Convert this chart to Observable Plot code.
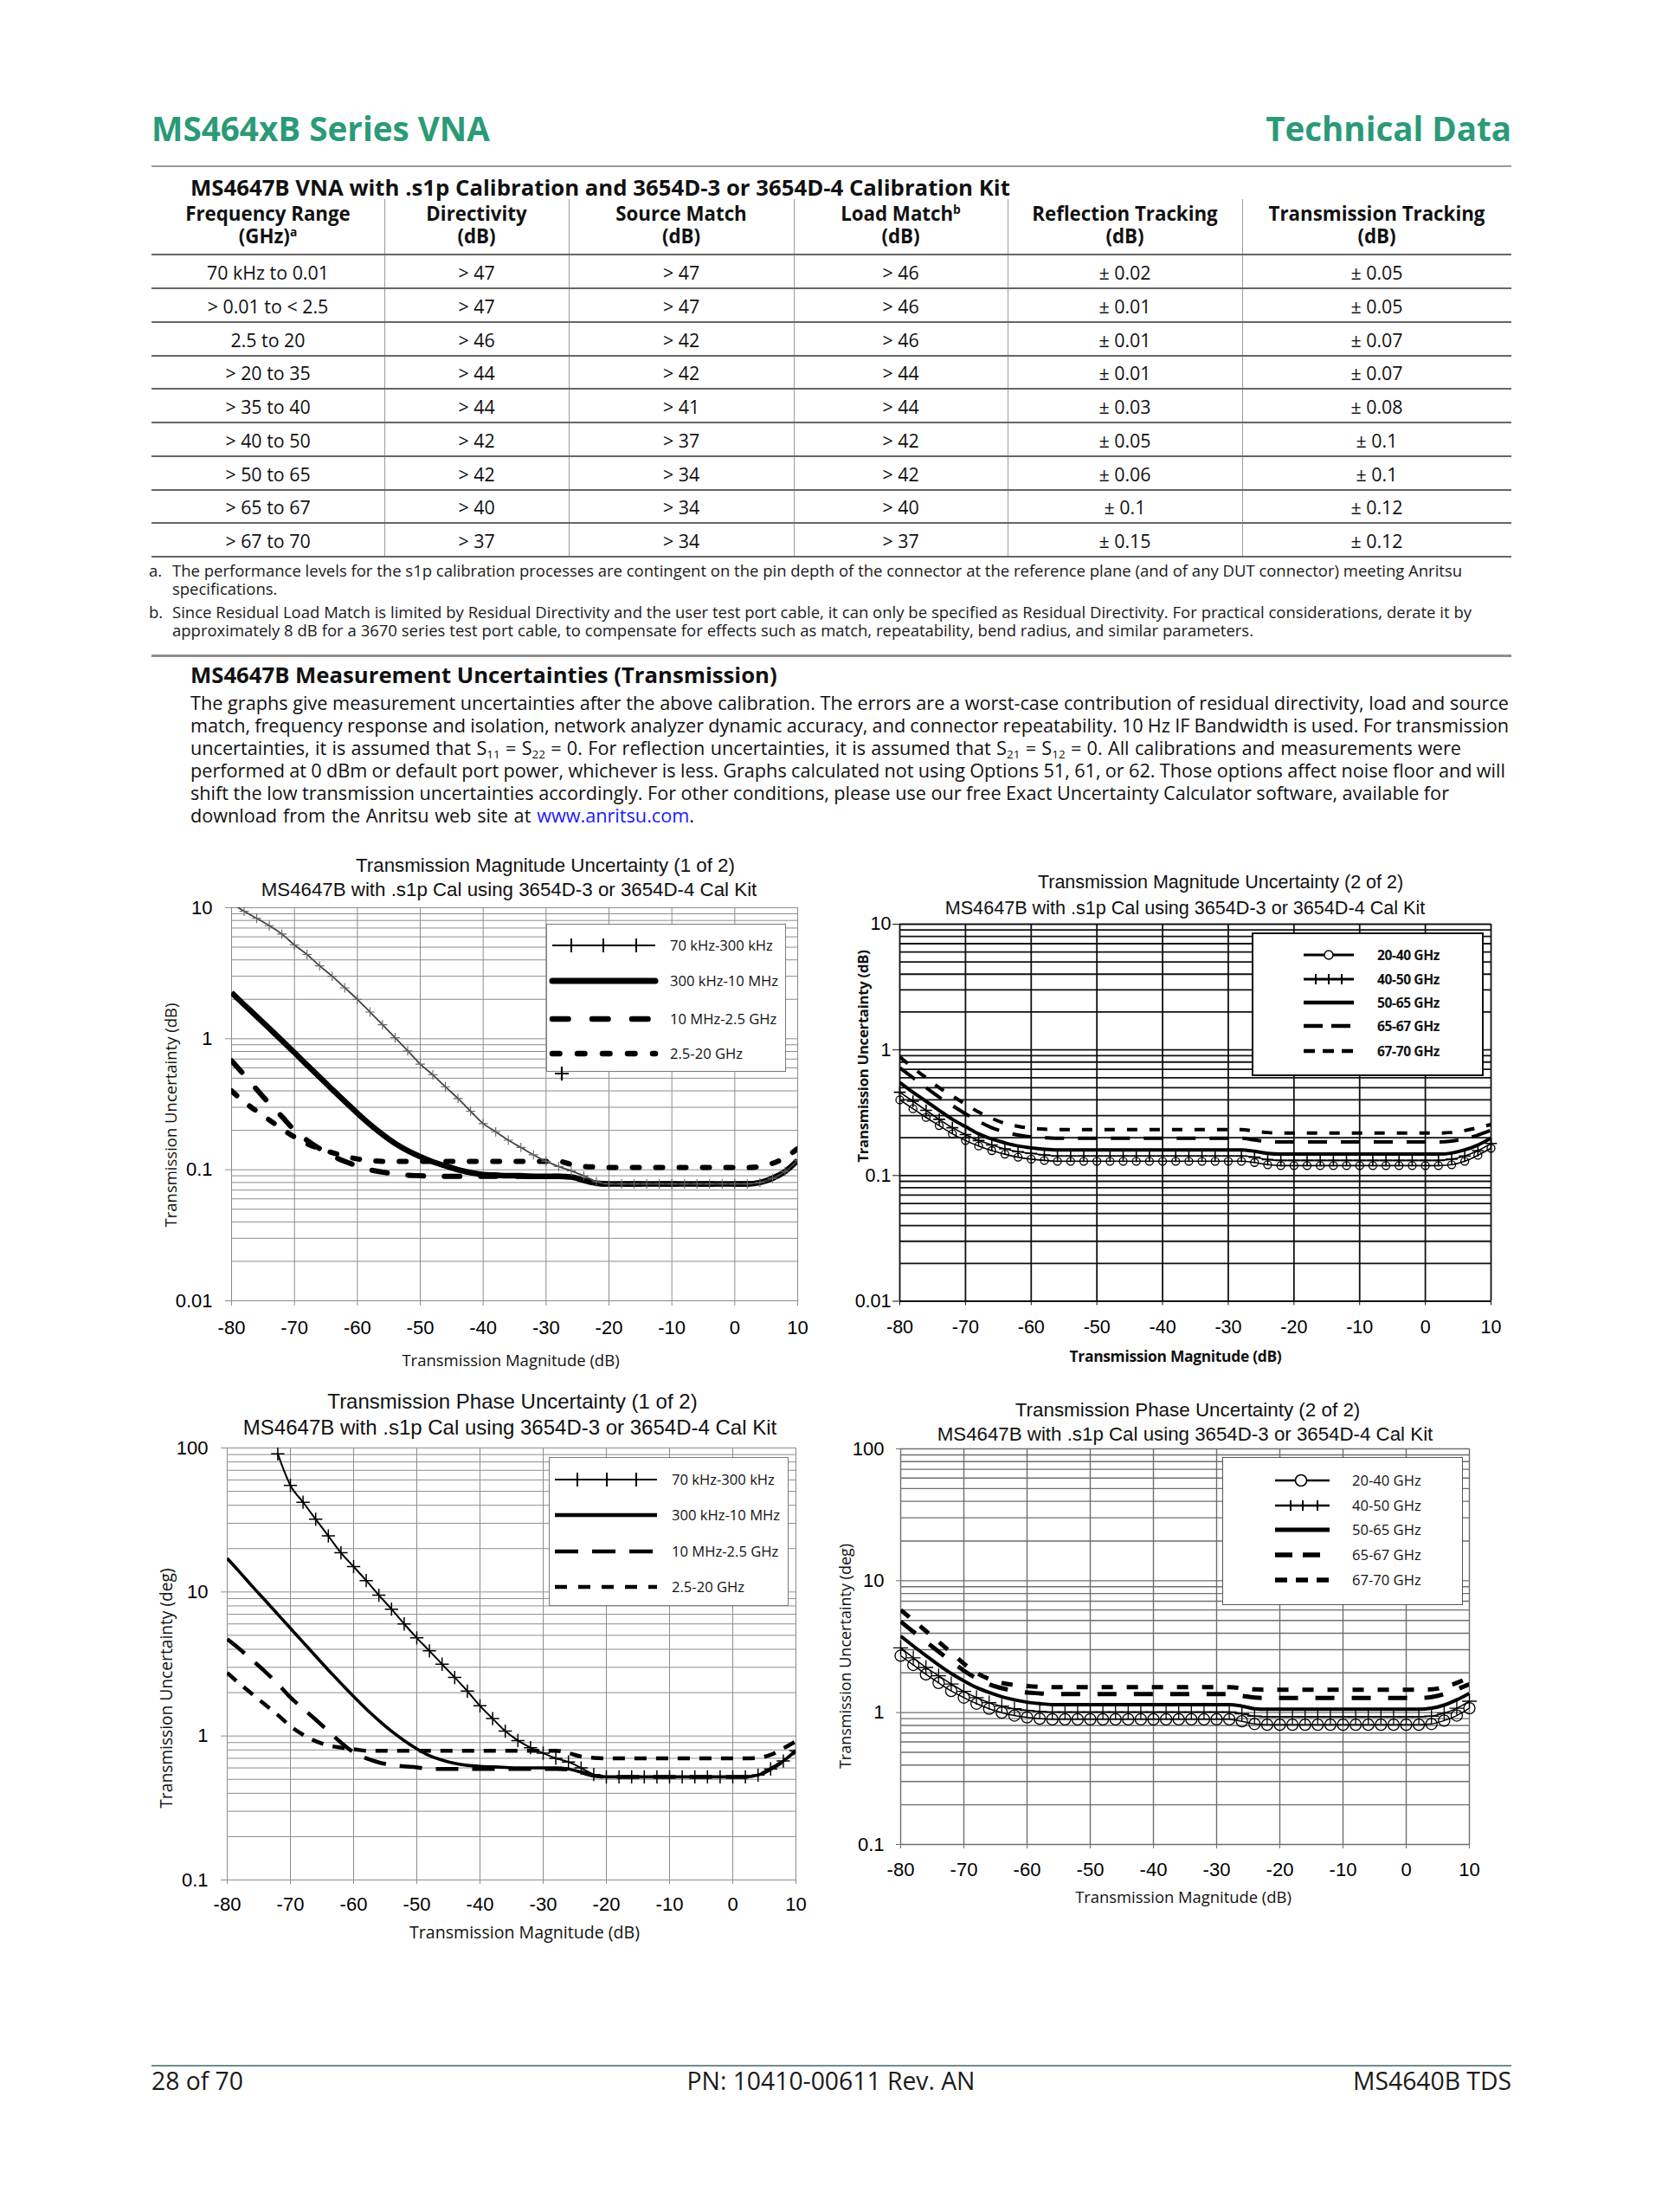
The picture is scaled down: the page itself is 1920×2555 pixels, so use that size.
<!DOCTYPE html>
<html><head><meta charset="utf-8">
<script src="https://cdn.jsdelivr.net/npm/d3@7"></script>
<script src="https://cdn.jsdelivr.net/npm/@observablehq/plot@0.6"></script>
<style>
body{margin:0;background:#fff}
#page{position:relative;width:1920px;height:2555px;overflow:hidden;background:#fff;color:#1a1a1a;font-family:"Open Sans",sans-serif}
sup{font-size:0.62em;line-height:0;vertical-align:0.6em}
sub{font-size:0.62em;line-height:0;vertical-align:-0.3em}
</style></head>
<body><div id="page"></div>
<script>
// ---------------- DATA ----------------
const xTicks = [-80,-70,-60,-50,-40,-30,-20,-10,0,10];
const xLabels = ["-80","-70","-60","-50","-40","-30","-20","-10","0","10"];
const magTicks = [0.01,0.1,1,10];
const magLabels = ["0.01","0.1","1","10"];
const phTicks = [0.1,1,10,100];
const phLabels = ["0.1","1","10","100"];

const xDb = [-80,-78,-76,-74,-72,-70,-68,-66,-64,-62,-60,-58,-56,-54,-52,-50,-48,-46,-44,-42,-40,-38,-36,-34,-32,-30,-28,-26,-24,-22,-20,-18,-16,-14,-12,-10,-8,-6,-4,-2,0,2,4,6,8,10];

// Transmission Magnitude Uncertainty (1 of 2), dB
const mag1Names = ["70 kHz-300 kHz","300 kHz-10 MHz","10 MHz-2.5 GHz","2.5-20 GHz"];
const mag1A = [10.8,9.4,8.3,7.3,6.3,5.2,4.4,3.6,3.0,2.45,2.0,1.6,1.28,1.02,0.81,0.64,0.53,0.43,0.35,0.28,0.225,0.195,0.168,0.148,0.13,0.116,0.106,0.098,0.09,0.081,0.078,0.078,0.078,0.078,0.078,0.078,0.078,0.078,0.078,0.078,0.078,0.078,0.08,0.086,0.097,0.118];
const mag1B = [2.25,1.82,1.48,1.2,0.97,0.785,0.63,0.51,0.41,0.333,0.27,0.222,0.186,0.159,0.14,0.126,0.115,0.107,0.1,0.095,0.092,0.091,0.09,0.09,0.089,0.089,0.089,0.088,0.083,0.079,0.078,0.078,0.078,0.078,0.078,0.078,0.078,0.078,0.078,0.078,0.078,0.078,0.08,0.086,0.097,0.118];
const mag1C = [0.68,0.53,0.41,0.32,0.255,0.2,0.168,0.145,0.128,0.116,0.107,0.1,0.096,0.093,0.091,0.09,0.089,0.089,0.089,0.089,0.089,0.089,0.089,0.089,0.089,0.089,0.089,0.088,0.083,0.079,0.078,0.078,0.078,0.078,0.078,0.078,0.078,0.078,0.078,0.078,0.078,0.078,0.08,0.086,0.097,0.118];
const mag1D = [0.40,0.33,0.28,0.24,0.205,0.178,0.158,0.145,0.135,0.127,0.121,0.118,0.116,0.116,0.116,0.116,0.116,0.116,0.116,0.116,0.116,0.116,0.116,0.116,0.116,0.116,0.116,0.11,0.106,0.105,0.104,0.104,0.104,0.104,0.104,0.104,0.104,0.104,0.104,0.104,0.104,0.104,0.106,0.112,0.124,0.145];

// Transmission Magnitude Uncertainty (2 of 2), dB
const mag2Names = ["20-40 GHz","40-50 GHz","50-65 GHz","65-67 GHz","67-70 GHz"];
const mag2E = [0.40,0.34,0.29,0.25,0.215,0.19,0.172,0.158,0.148,0.14,0.135,0.132,0.13,0.13,0.13,0.13,0.13,0.13,0.13,0.13,0.13,0.13,0.13,0.13,0.13,0.13,0.13,0.127,0.122,0.12,0.12,0.12,0.12,0.12,0.12,0.12,0.12,0.12,0.12,0.12,0.12,0.12,0.122,0.13,0.145,0.165];
const mag2F = [0.46,0.39,0.33,0.28,0.24,0.212,0.19,0.175,0.163,0.155,0.15,0.146,0.143,0.143,0.143,0.143,0.143,0.143,0.143,0.143,0.143,0.143,0.143,0.143,0.143,0.143,0.143,0.14,0.134,0.132,0.132,0.132,0.132,0.132,0.132,0.132,0.132,0.132,0.132,0.132,0.132,0.132,0.135,0.143,0.158,0.18];
const mag2G = [0.55,0.46,0.39,0.33,0.28,0.245,0.215,0.195,0.182,0.172,0.166,0.162,0.16,0.16,0.16,0.16,0.16,0.16,0.16,0.16,0.16,0.16,0.16,0.16,0.16,0.16,0.16,0.156,0.15,0.148,0.148,0.148,0.148,0.148,0.148,0.148,0.148,0.148,0.148,0.148,0.148,0.148,0.151,0.16,0.175,0.198];
const mag2H = [0.72,0.6,0.5,0.42,0.36,0.31,0.27,0.24,0.222,0.21,0.203,0.2,0.198,0.198,0.198,0.198,0.198,0.198,0.198,0.198,0.198,0.198,0.198,0.198,0.198,0.198,0.198,0.192,0.186,0.185,0.185,0.185,0.185,0.185,0.185,0.185,0.185,0.185,0.185,0.185,0.185,0.185,0.188,0.196,0.21,0.23];
const mag2I = [0.88,0.72,0.6,0.5,0.43,0.37,0.32,0.285,0.26,0.246,0.238,0.234,0.232,0.232,0.232,0.232,0.232,0.232,0.232,0.232,0.232,0.232,0.232,0.232,0.232,0.232,0.232,0.226,0.22,0.218,0.218,0.218,0.218,0.218,0.218,0.218,0.218,0.218,0.218,0.218,0.218,0.218,0.22,0.228,0.24,0.255];

// Transmission Phase Uncertainty (1 of 2), deg
const ph1A = [null,null,null,null,91,55,42,32,24.5,18.7,15,12,9.5,7.6,6,4.8,3.9,3.15,2.55,2.05,1.62,1.32,1.08,0.93,0.83,0.76,0.7,0.66,0.6,0.54,0.52,0.52,0.52,0.52,0.52,0.52,0.52,0.52,0.52,0.52,0.52,0.52,0.535,0.59,0.67,0.79];
const ph1B = [17.1,13.7,10.9,8.75,7.0,5.6,4.48,3.58,2.87,2.32,1.88,1.54,1.28,1.08,0.93,0.815,0.73,0.68,0.645,0.625,0.615,0.61,0.605,0.6,0.6,0.6,0.6,0.59,0.56,0.53,0.52,0.52,0.52,0.52,0.52,0.52,0.52,0.52,0.52,0.52,0.52,0.52,0.535,0.59,0.67,0.79];
const ph1C = [4.7,4.0,3.35,2.8,2.3,1.85,1.55,1.3,1.08,0.9,0.77,0.7,0.655,0.63,0.615,0.605,0.59,0.59,0.59,0.59,0.59,0.59,0.59,0.59,0.59,0.59,0.59,0.585,0.56,0.53,0.52,0.52,0.52,0.52,0.52,0.52,0.52,0.52,0.52,0.52,0.52,0.52,0.535,0.59,0.67,0.79];
const ph1D = [2.75,2.3,1.95,1.65,1.4,1.17,1.02,0.92,0.86,0.83,0.81,0.79,0.79,0.79,0.79,0.79,0.79,0.79,0.79,0.79,0.79,0.79,0.79,0.79,0.79,0.79,0.79,0.76,0.72,0.705,0.7,0.7,0.7,0.7,0.7,0.7,0.7,0.7,0.7,0.7,0.7,0.7,0.705,0.74,0.82,0.92];

// Transmission Phase Uncertainty (2 of 2), deg
const ph2E = [2.7,2.3,1.95,1.68,1.46,1.3,1.17,1.07,1.0,0.95,0.92,0.9,0.89,0.89,0.89,0.89,0.89,0.89,0.89,0.89,0.89,0.89,0.89,0.89,0.89,0.89,0.89,0.86,0.82,0.81,0.81,0.81,0.81,0.81,0.81,0.81,0.81,0.81,0.81,0.81,0.81,0.81,0.82,0.87,0.95,1.08];
const ph2F = [3.1,2.6,2.2,1.9,1.65,1.45,1.3,1.19,1.12,1.07,1.04,1.02,1.01,1.01,1.01,1.01,1.01,1.01,1.01,1.01,1.01,1.01,1.01,1.01,1.01,1.01,1.01,0.98,0.94,0.93,0.93,0.93,0.93,0.93,0.93,0.93,0.93,0.93,0.93,0.93,0.93,0.93,0.94,0.99,1.08,1.22];
const ph2G = [3.8,3.2,2.7,2.3,1.98,1.74,1.55,1.42,1.32,1.25,1.2,1.17,1.15,1.15,1.15,1.15,1.15,1.15,1.15,1.15,1.15,1.15,1.15,1.15,1.15,1.15,1.15,1.12,1.07,1.06,1.06,1.06,1.06,1.06,1.06,1.06,1.06,1.06,1.06,1.06,1.06,1.06,1.08,1.14,1.25,1.4];
const ph2H = [4.9,4.1,3.45,2.9,2.45,2.08,1.82,1.64,1.53,1.46,1.42,1.4,1.38,1.38,1.38,1.38,1.38,1.38,1.38,1.38,1.38,1.38,1.38,1.38,1.38,1.38,1.38,1.34,1.3,1.29,1.29,1.29,1.29,1.29,1.29,1.29,1.29,1.29,1.29,1.29,1.29,1.29,1.31,1.38,1.5,1.64];
const ph2I = [6.0,5.0,4.15,3.45,2.85,2.35,2.0,1.8,1.68,1.62,1.59,1.57,1.56,1.56,1.56,1.56,1.56,1.56,1.56,1.56,1.56,1.56,1.56,1.56,1.56,1.56,1.56,1.53,1.5,1.49,1.49,1.49,1.49,1.49,1.49,1.49,1.49,1.49,1.49,1.49,1.49,1.49,1.5,1.56,1.68,1.85];

// Table
const tblHeader1 = ["Frequency Range","Directivity","Source Match","Load Match<sup>b</sup>","Reflection Tracking","Transmission Tracking"];
const tblHeader2 = ["(GHz)<sup>a</sup>","(dB)","(dB)","(dB)","(dB)","(dB)"];
const tblFreq = ["70 kHz to 0.01","&gt; 0.01 to &lt; 2.5","2.5 to 20","&gt; 20 to 35","&gt; 35 to 40","&gt; 40 to 50","&gt; 50 to 65","&gt; 65 to 67","&gt; 67 to 70"];
const tblDir = ["&gt; 47","&gt; 47","&gt; 46","&gt; 44","&gt; 44","&gt; 42","&gt; 42","&gt; 40","&gt; 37"];
const tblSrc = ["&gt; 47","&gt; 47","&gt; 42","&gt; 42","&gt; 41","&gt; 37","&gt; 34","&gt; 34","&gt; 34"];
const tblLoad = ["&gt; 46","&gt; 46","&gt; 46","&gt; 44","&gt; 44","&gt; 42","&gt; 42","&gt; 40","&gt; 37"];
const tblRefl = ["± 0.02","± 0.01","± 0.01","± 0.01","± 0.03","± 0.05","± 0.06","± 0.1","± 0.15"];
const tblTrans = ["± 0.05","± 0.05","± 0.07","± 0.07","± 0.08","± 0.1","± 0.1","± 0.12","± 0.12"];

// ---------------- HELPERS ----------------
const page = document.getElementById("page");
const OS = "'Open Sans', sans-serif";
const LS = "'Liberation Sans', Arial, sans-serif";
function measure(html, size, family, weight) {
  const s = document.createElement("span");
  s.innerHTML = html;
  Object.assign(s.style, {position:"absolute", visibility:"hidden", whiteSpace:"nowrap", fontSize:size+"px", fontFamily:family, fontWeight:weight||400});
  document.body.appendChild(s);
  const w = s.getBoundingClientRect().width;
  s.remove();
  return w;
}
function fitSize(html, target, family, weight) { return 20 * target / measure(html, 20, family, weight); }
function wordSpace(html, size, target) {
  const spaces = (html.replace(/<[^>]*>/g, "").match(/ /g) || []).length;
  return spaces ? (target - measure(html, size, OS, 400)) / spaces : 0;
}
function T(html, x, y, o = {}) {
  const d = document.createElement("div");
  d.innerHTML = html;
  const fs = o.size || 20, lh = o.lh || fs * (o.lhf || 1.2);
  Object.assign(d.style, {position:"absolute", left:x+"px", top:(y-lh/2)+"px", fontSize:fs+"px", lineHeight:lh+"px",
    whiteSpace:"nowrap", fontFamily:o.family||OS, fontWeight:o.weight||400, color:o.color||"#1a1a1a"});
  let tr = o.anchor === "middle" ? "translateX(-50%)" : o.anchor === "end" ? "translateX(-100%)" : "";
  if (o.rotate) { d.style.top = y + "px"; tr = "translate(-50%,-50%) rotate(-90deg)"; }
  d.style.transform = tr;
  if (o.ls) d.style.letterSpacing = o.ls;
  if (o.ws != null) d.style.wordSpacing = o.ws + "px";
  page.appendChild(d);
  return d;
}
function R(x, y, w, h, color) {
  const d = document.createElement("div");
  Object.assign(d.style, {position:"absolute", left:x+"px", top:y+"px", width:w+"px", height:h+"px", background:color});
  page.appendChild(d);
}

// ---------------- PAGE TEXT ----------------
const GREEN = "#2b9a78";
T("MS464xB Series VNA", 175, 148, {size: fitSize("MS464xB Series VNA", 391, OS, 700), weight:700, color:GREEN});
T("Technical Data", 1746, 148, {size: fitSize("Technical Data", 284, OS, 700), weight:700, color:GREEN, anchor:"end"});
R(175, 190.5, 1571, 2.5, "#9a9a9a");

const tTitle = "MS4647B VNA with .s1p Calibration and 3654D-3 or 3654D-4 Calibration Kit";
T(tTitle, 220, 216, {size: fitSize(tTitle, 947, OS, 700), weight:700, color:"#111"});

const cols = [175, 444, 657, 917, 1164, 1435, 1746];
const hLines = [294, 333, 372, 411, 449, 488, 527, 566, 604, 643];
const hdrSize = fitSize("Transmission Tracking", 250, OS, 700);
const cellSize = fitSize("70 kHz to 0.01", 141, OS, 400);
for (let c = 0; c < 6; c++) {
  const cx = (cols[c] + cols[c+1]) / 2;
  T(tblHeader1[c], cx, 247, {size: hdrSize, lhf: 1.15, weight:700, anchor:"middle", color:"#111"});
  T(tblHeader2[c], cx, 273, {size: hdrSize, lhf: 1.15, weight:700, anchor:"middle", color:"#111"});
}
const tblCols = [tblFreq, tblDir, tblSrc, tblLoad, tblRefl, tblTrans];
for (let r = 0; r < 9; r++) {
  const cy = (hLines[r] + hLines[r+1]) / 2;
  for (let c = 0; c < 6; c++) {
    const cx = (cols[c] + cols[c+1]) / 2;
    T(tblCols[c][r], cx, cy + 1, {size: cellSize, anchor:"middle", color:"#111"});
  }
}
for (let i = 1; i < 6; i++) R(cols[i], 230, 1, 413, "#9d9d9d");
hLines.forEach(y => R(175, y - 1, 1571, 2, "#666"));

const fnA1 = "The performance levels for the s1p calibration processes are contingent on the pin depth of the connector at the reference plane (and of any DUT connector) meeting Anritsu";
const fnB1 = "Since Residual Load Match is limited by Residual Directivity and the user test port cable, it can only be specified as Residual Directivity. For practical considerations, derate it by";
const fnB2 = "approximately 8 dB for a 3670 series test port cable, to compensate for effects such as match, repeatability, bend radius, and similar parameters.";
const fnSize = fitSize(fnA1, 1491, OS, 400);
const fo = {size: fnSize, lhf: 1.05};
T("a.", 172, 659, fo);
T(fnA1, 199, 659, fo);
T("specifications.", 199, 680, fo);
T("b.", 172, 706.5, fo);
T(fnB1, 199, 706.5, {...fo, ws: wordSpace(fnB1, fnSize, 1501)});
T(fnB2, 199, 727.5, {...fo, ws: wordSpace(fnB2, fnSize, 1249)});

R(175, 756, 1571, 2.5, "#8f8f8f");
const sTitle = "MS4647B Measurement Uncertainties (Transmission)";
T(sTitle, 220, 780, {size: fitSize(sTitle, 678, OS, 700), weight:700, color:"#111"});
const para = [
  "The graphs give measurement uncertainties after the above calibration. The errors are a worst-case contribution of residual directivity, load and source",
  "match, frequency response and isolation, network analyzer dynamic accuracy, and connector repeatability. 10 Hz IF Bandwidth is used. For transmission",
  "uncertainties, it is assumed that S<sub>11</sub> = S<sub>22</sub> = 0. For reflection uncertainties, it is assumed that S<sub>21</sub> = S<sub>12</sub> = 0. All calibrations and measurements were",
  "performed at 0 dBm or default port power, whichever is less. Graphs calculated not using Options 51, 61, or 62. Those options affect noise floor and will",
  "shift the low transmission uncertainties accordingly. For other conditions, please use our free Exact Uncertainty Calculator software, available for",
  "download from the Anritsu web site at <span style=\"color:#1a1aff\">www.anritsu.com</span>."
];
const paraEnds = [1523, 1523, 1468, 1519, 1454, 582];
const pSize = fitSize(para[0], 1523, OS, 400);
para.forEach((l, i) => T(l, 220, 812 + i * 26, {size: pSize, lhf: 1.2, color:"#111", ws: wordSpace(l, pSize, paraEnds[i])}));

R(175, 2385, 1571, 2, "#6f8c8c");
const ftSize = fitSize("28 of 70", 106, OS, 400);
T("28 of 70", 175, 2404, {size: ftSize});
T("PN: 10410-00611 Rev. AN", 960, 2404, {size: ftSize, anchor:"middle"});
T("MS4640B TDS", 1746, 2404, {size: ftSize, anchor:"end"});

// ---------------- CHARTS ----------------
function chart(c) {
  const ML = 110, MR = 25, MT = 14, MB = 60;
  const gy = [];
  for (const d of c.yTicks.slice(0, -1)) for (let k = 1; k <= 9; k++) gy.push(+(k * d).toPrecision(3));
  gy.push(c.yTicks[c.yTicks.length - 1]);
  const xl = new Map(xTicks.map((v, i) => [v, xLabels[i]]));
  const yl = new Map(c.yTicks.map((v, i) => [v, c.yLabels[i]]));
  const marks = [
    Plot.ruleY(gy, {stroke: c.grid, strokeWidth: c.gridW}),
    Plot.ruleX(xTicks, {stroke: c.grid, strokeWidth: c.vgridW || c.gridW}),
    Plot.axisX(xTicks, {tickSize: c.xts, tickPadding: c.xtp, tickFormat: d => xl.get(d), label: null, stroke: c.grid}),
    Plot.axisY(c.yTicks, {tickSize: c.yts, tickPadding: c.ytp, tickFormat: d => yl.get(d), label: null, stroke: c.grid})
  ];
  for (const s of c.series) {
    const rows = xDb.map((x, i) => ({x, y: s.values[i]})).filter(d => d.y != null);
    marks.push(Plot.line(rows, {x: "x", y: "y", stroke: s.color || "#000", strokeWidth: s.w, strokeDasharray: s.dash,
      strokeLinecap: s.cap || "butt", curve: "monotone-x", clip: true}));
    if (s.marker) marks.push(Plot.dot(rows, {x: "x", y: "y", symbol: s.marker, r: s.mr, stroke: s.mstroke || "#000",
      strokeWidth: s.mw, fill: "none", clip: c.clipDots}));
  }
  const svg = Plot.plot({
    width: c.px1 - c.px0 + ML + MR, height: c.py1 - c.py0 + MT + MB,
    marginLeft: ML, marginRight: MR, marginTop: MT, marginBottom: MB,
    x: {domain: [-80, 10]}, y: {type: "log", domain: [c.yTicks[0], c.yTicks[c.yTicks.length - 1]]},
    style: {fontFamily: LS, fontSize: c.tickFont + "px", color: "#000", background: "transparent", overflow: "visible"},
    marks
  });
  const wrap = document.createElement("div");
  Object.assign(wrap.style, {position: "absolute", left: (c.px0 - ML) + "px", top: (c.py0 - MT) + "px"});
  wrap.appendChild(svg);
  page.appendChild(wrap);

  // titles and axis titles
  T(c.title1, c.t1[0], c.t1[1], {size: c.t1[2], family: LS, anchor: "middle", color: "#111", lhf: 1.12});
  T(c.title2, c.t2[0], c.t2[1], {size: c.t2[2], family: LS, anchor: "middle", color: "#111", lhf: 1.12});
  T("Transmission Magnitude (dB)", c.xt[0], c.xt[1], {size: c.xt[2], anchor: "middle", weight: c.axW || 400, ls: c.axLs, color: "#111"});
  T(c.yTitle, c.yt[0], c.yt[1], {size: c.yt[2], rotate: true, weight: c.axW || 400, ls: c.axLs, color: "#111"});

  // legend
  const L = c.legend;
  const box = document.createElement("div");
  Object.assign(box.style, {position: "absolute", left: L.box[0] + "px", top: L.box[1] + "px", width: (L.box[2] - L.box[0]) + "px",
    height: (L.box[3] - L.box[1]) + "px", background: "#fff", border: L.border, boxSizing: "border-box"});
  page.appendChild(box);
  c.names.forEach((name, i) => {
    const st = L.styles[i], y = L.rows[i];
    const pad = 14, w = L.sx[1] - L.sx[0] + 2 * pad, h = 30;
    let s = `<svg width="${w}" height="${h}" style="position:absolute;left:${L.sx[0] - pad}px;top:${y - h / 2}px;overflow:visible">`;
    s += `<line x1="${pad}" y1="${h / 2}" x2="${w - pad}" y2="${h / 2}" stroke="#000" stroke-width="${st.w}" ${st.dash ? `stroke-dasharray="${st.dash}"` : ""} stroke-linecap="${st.cap || "butt"}"/>`;
    for (const mx of st.mx || []) {
      const cx = mx - L.sx[0] + pad;
      if (st.marker === "plus") s += `<path d="M${cx - st.ms},${h / 2}H${cx + st.ms}M${cx},${h / 2 - st.ms}V${h / 2 + st.ms}" stroke="#000" stroke-width="${st.mw}" fill="none"/>`;
      else s += `<circle cx="${cx}" cy="${h / 2}" r="${st.ms}" fill="#fff" stroke="#000" stroke-width="${st.mw}"/>`;
    }
    s += "</svg>";
    const holder = document.createElement("div");
    holder.innerHTML = s;
    page.appendChild(holder.firstChild);
    T(name, L.tx, y, {size: L.size, weight: L.weight || 400, ls: L.ls, color: "#111"});
  });
  if (L.extraPlus) {
    const [px, py, ps] = L.extraPlus;
    const holder = document.createElement("div");
    holder.innerHTML = `<svg width="${2 * ps + 4}" height="${2 * ps + 4}" style="position:absolute;left:${px - ps - 2}px;top:${py - ps - 2}px"><path d="M2,${ps + 2}H${2 * ps + 2}M${ps + 2},2V${2 * ps + 2}" stroke="#000" stroke-width="2.2"/></svg>`;
    page.appendChild(holder.firstChild);
  }
}

// Chart 1
chart({
  px0: 267, px1: 921, py0: 1048, py1: 1502, yTicks: magTicks, yLabels: magLabels, tickFont: 22,
  yts: 7, ytp: 15, xts: 6, xtp: 17, grid: "#8c8c8c", gridW: 1, clipDots: true,
  title1: "Transmission Magnitude Uncertainty (1 of 2)", t1: [630, 1000, 22.3],
  title2: "MS4647B with .s1p Cal using 3654D-3 or 3654D-4 Cal Kit", t2: [588, 1028.5, 22.3],
  xt: [590, 1571, 18.5], yTitle: "Transmission Uncertainty (dB)", yt: [197, 1288, 18.5],
  names: mag1Names,
  series: [
    {values: mag1D, w: 6, dash: "8,19", cap: "round"},
    {values: mag1C, w: 6, dash: "18,24", cap: "round"},
    {values: mag1B, w: 6.5},
    {values: mag1A, w: 1.8, color: "#444", marker: "plus", mr: 3.6, mw: 1.1, mstroke: "#666"}
  ],
  legend: {
    box: [631, 1067, 908, 1238], border: "1.5px solid #7a7a7a", rows: [1092, 1133, 1177, 1217], sx: [638, 757], tx: 774, size: 16.6,
    styles: [
      {w: 2, marker: "plus", mx: [660, 697, 735], ms: 8, mw: 2},
      {w: 7, cap: "round"},
      {w: 6.5, dash: "18.5,27.5", cap: "round"},
      {w: 6.5, dash: "8.5,20.5", cap: "round"}
    ],
    extraPlus: [649, 1240, 8]
  }
});

// Chart 2
chart({
  px0: 1039, px1: 1722, py0: 1066.5, py1: 1502, yTicks: magTicks, yLabels: magLabels, tickFont: 21.5,
  yts: 8, ytp: 2, xts: 5, xtp: 17, grid: "#111", gridW: 1.8, clipDots: false,
  title1: "Transmission Magnitude Uncertainty (2 of 2)", t1: [1410, 1019, 21.5],
  title2: "MS4647B with .s1p Cal using 3654D-3 or 3654D-4 Cal Kit", t2: [1369, 1049, 21.6],
  xt: [1358, 1566, 17.4], yTitle: "Transmission Uncertainty (dB)", yt: [997, 1220, 16.8], axW: 700, axLs: "-0.3px",
  names: mag2Names,
  series: [
    {values: mag2I, w: 4, dash: "12,14"},
    {values: mag2H, w: 4, dash: "22,16"},
    {values: mag2G, w: 4},
    {values: mag2F, w: 1.6, marker: "plus", mr: 4.5, mw: 1.6},
    {values: mag2E, w: 1.6, marker: "circle", mr: 4.5, mw: 1.3}
  ],
  legend: {
    box: [1446, 1077, 1714, 1243], border: "2px solid #111", rows: [1103, 1131, 1158, 1185, 1214], sx: [1506, 1564], tx: 1591, size: 15.6, weight: 700, ls: "-0.4px",
    styles: [
      {w: 3, marker: "circle", mx: [1535], ms: 5, mw: 1.5},
      {w: 3, marker: "plus", mx: [1520, 1535, 1550], ms: 6, mw: 2},
      {w: 4.5},
      {w: 4.5, dash: "22,10"},
      {w: 4.5, dash: "13,9"}
    ]
  }
});

// Chart 3
chart({
  px0: 262, px1: 919, py0: 1672, py1: 2171, yTicks: phTicks, yLabels: phLabels, tickFont: 22,
  yts: 7, ytp: 15, xts: 5, xtp: 15, grid: "#8c8c8c", gridW: 1, clipDots: true,
  title1: "Transmission Phase Uncertainty (1 of 2)", t1: [592, 1619.5, 24],
  title2: "MS4647B with .s1p Cal using 3654D-3 or 3654D-4 Cal Kit", t2: [589, 1649, 24],
  xt: [606, 2232, 19.6], yTitle: "Transmission Uncertainty (deg)", yt: [192, 1950, 19.2],
  names: mag1Names,
  series: [
    {values: ph1D, w: 4.5, dash: "14,11"},
    {values: ph1C, w: 4.5, dash: "26,16"},
    {values: ph1B, w: 3.6},
    {values: ph1A, w: 2, marker: "plus", mr: 5, mw: 1.5}
  ],
  legend: {
    box: [634, 1683, 911, 1855], border: "1.5px solid #7a7a7a", rows: [1709, 1750, 1792, 1833], sx: [641, 759], tx: 776, size: 16.6,
    styles: [
      {w: 2.2, marker: "plus", mx: [667, 701, 735], ms: 8, mw: 2},
      {w: 4.5},
      {w: 4.5, dash: "27,16"},
      {w: 4.5, dash: "14,13"}
    ]
  }
});

// Chart 4
chart({
  px0: 1040, px1: 1697, py0: 1673, py1: 2130, yTicks: phTicks, yLabels: phLabels, tickFont: 22,
  yts: 5, ytp: 14, xts: 5, xtp: 16, grid: "#6e6e6e", gridW: 1.4, clipDots: false,
  title1: "Transmission Phase Uncertainty (2 of 2)", t1: [1372, 1629, 22.4],
  title2: "MS4647B with .s1p Cal using 3654D-3 or 3654D-4 Cal Kit", t2: [1369, 1657, 22.3],
  xt: [1367, 2191, 18.4], yTitle: "Transmission Uncertainty (deg)", yt: [977, 1913, 18],
  names: mag2Names,
  series: [
    {values: ph2I, w: 5, dash: "13,16"},
    {values: ph2H, w: 5, dash: "22,20"},
    {values: ph2G, w: 4},
    {values: ph2F, w: 1.5, marker: "plus", mr: 5.5, mw: 1.3},
    {values: ph2E, w: 1.5, marker: "circle", mr: 6.5, mw: 1.3}
  ],
  legend: {
    box: [1412, 1683, 1690, 1854], border: "1.5px solid #555", rows: [1710, 1738.5, 1767, 1796, 1825], sx: [1473, 1536], tx: 1562, size: 16.6,
    styles: [
      {w: 2.5, marker: "circle", mx: [1503], ms: 6.5, mw: 1.6},
      {w: 2.5, marker: "plus", mx: [1491, 1505, 1522], ms: 6, mw: 2},
      {w: 5},
      {w: 5.5, dash: "20,12"},
      {w: 5.5, dash: "14,10"}
    ]
  }
});
</script>
</body></html>
